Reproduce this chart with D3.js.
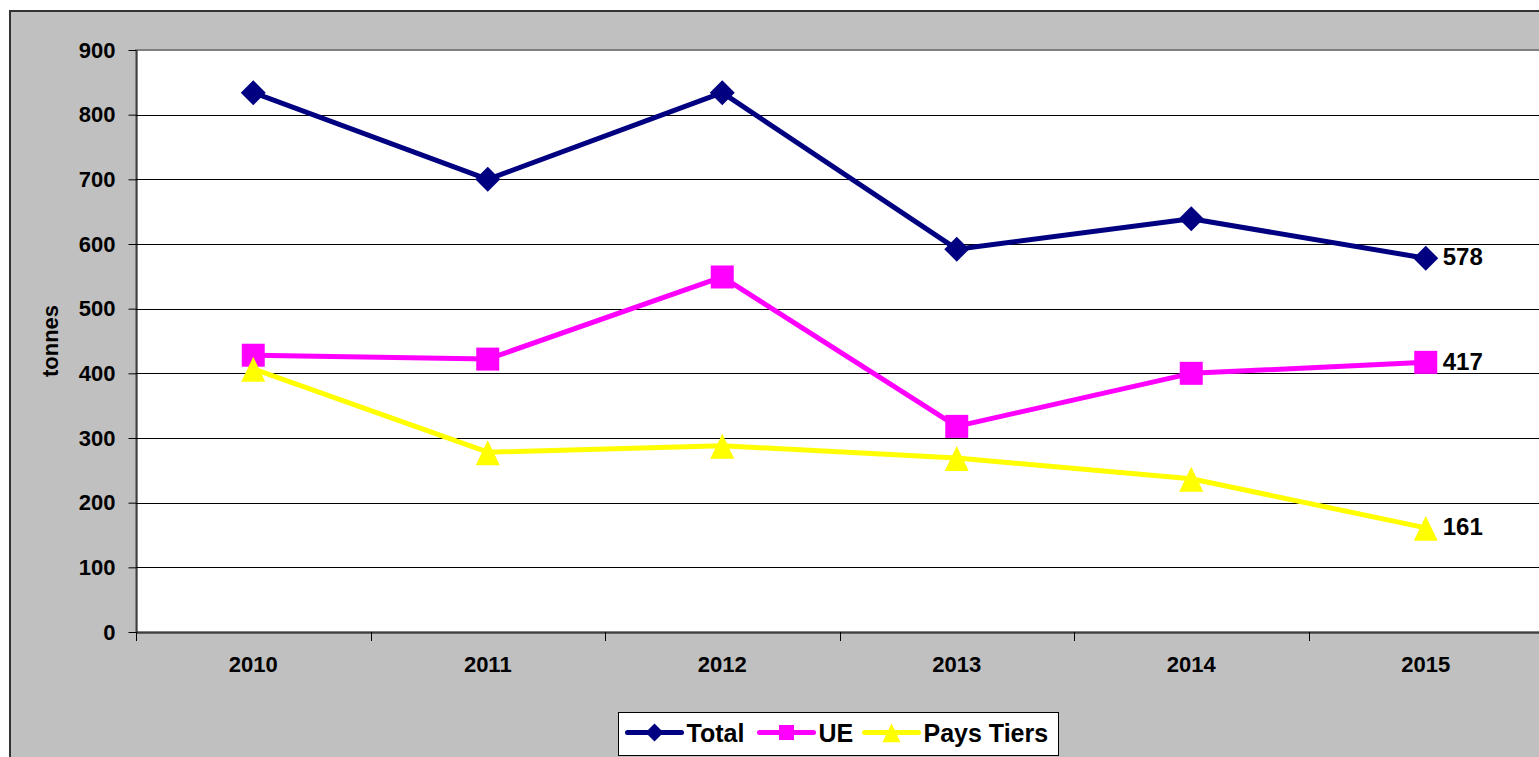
<!DOCTYPE html>
<html>
<head>
<meta charset="utf-8">
<script src="https://cdn.jsdelivr.net/npm/d3@7"></script>
<style>
  html, body { margin: 0; padding: 0; background: #fff; overflow: hidden; }
  svg { display: block; font-family: "Liberation Sans", Arial, sans-serif; }
</style>
</head>
<body>
<div id="chart"></div>
<script>
const years = ['2010', '2011', '2012', '2013', '2014', '2015'];
const totalValues = [834, 700, 834, 592, 639, 578];
const ueValues = [428, 422, 549, 318, 400, 417];
const tiersValues = [407, 278, 288, 269, 237, 161];
const yTicks = [0, 100, 200, 300, 400, 500, 600, 700, 800, 900];

const series = [
    { name: 'Total', values: totalValues, color: '#000080', marker: 'diamond' },
    { name: 'UE', values: ueValues, color: '#ff00ff', marker: 'square' },
    { name: 'Pays Tiers', values: tiersValues, color: '#ffff00', marker: 'triangle' }
];

const width = 1539, height = 757;
const plot = { left: 136, top: 50, right: 1543, bottom: 632 };
const FONT = '"Liberation Sans", Arial, sans-serif';

const svg = d3.select('#chart').append('svg')
    .attr('width', width)
    .attr('height', height);

// Outer chart area
svg.append('rect')
    .attr('x', 10).attr('y', 11)
    .attr('width', width).attr('height', height)
    .attr('fill', '#c0c0c0')
    .attr('stroke', '#333')
    .attr('stroke-width', 2);

const x = d3.scaleBand().domain(years).range([plot.left, plot.right]);
const y = d3.scaleLinear().domain([0, 900]).range([plot.bottom, plot.top]);

// Plot area
svg.append('rect')
    .attr('x', plot.left).attr('y', plot.top)
    .attr('width', plot.right - plot.left).attr('height', plot.bottom - plot.top)
    .attr('fill', '#fff')
    .attr('stroke', '#808080')
    .attr('stroke-width', 2);

// Gridlines
svg.append('g')
    .selectAll('line')
    .data(yTicks.slice(1, -1))
    .join('line')
    .attr('x1', plot.left).attr('x2', plot.right)
    .attr('y1', d => Math.round(y(d)) + 0.5).attr('y2', d => Math.round(y(d)) + 0.5)
    .attr('stroke', '#000')
    .attr('stroke-width', 1);

// Y axis
const yAxis = svg.append('g')
    .attr('transform', `translate(${plot.left + 0.5},0)`)
    .call(d3.axisLeft(y).tickValues(yTicks).tickSize(8).tickSizeOuter(0).tickPadding(13));
yAxis.select('.domain').attr('stroke', '#000');
yAxis.selectAll('.tick line').attr('stroke', '#000');
yAxis.selectAll('.tick text')
    .attr('font-size', '22px')
    .attr('font-weight', 'bold')
    .attr('fill', '#000')
    .attr('font-family', FONT);

// X axis
const xAxis = svg.append('g')
    .attr('transform', `translate(0,${plot.bottom + 0.5})`)
    .call(d3.axisBottom(x).tickSize(0).tickPadding(24));
xAxis.select('.domain').attr('stroke', '#000');
xAxis.selectAll('.tick text')
    .attr('font-size', '22px')
    .attr('font-weight', 'bold')
    .attr('fill', '#000')
    .attr('font-family', FONT);

// Category separators
svg.append('g')
    .selectAll('line')
    .data(years)
    .join('line')
    .attr('x1', d => Math.round(x(d)) + 0.5).attr('x2', d => Math.round(x(d)) + 0.5)
    .attr('y1', plot.bottom).attr('y2', plot.bottom + 9)
    .attr('stroke', '#000');

// Y label
svg.append('text')
    .attr('transform', `translate(50,${(plot.top + plot.bottom) / 2}) rotate(-90)`)
    .attr('text-anchor', 'middle')
    .attr('dy', '0.35em')
    .attr('font-size', '22px')
    .attr('font-weight', 'bold')
    .text('tonnes');

const cx = d => x(d) + x.bandwidth() / 2;

function markerPath(type, s) {
    if (type === 'diamond') return `M0,${-s}L${s},0L0,${s}L${-s},0Z`;
    if (type === 'square') return `M${-s},${-s}H${s}V${s}H${-s}Z`;
    return `M0,${-s}L${s},${s * 1.08}L${-s},${s * 1.08}Z`;
}
const markerSize = { diamond: 12.5, square: 11.5, triangle: 12 };

const line = d3.line().x((d, i) => cx(years[i])).y(d => y(d));

series.forEach(s => {
    const g = svg.append('g');
    g.append('path')
        .attr('d', line(s.values))
        .attr('fill', 'none')
        .attr('stroke', s.color)
        .attr('stroke-width', 5)
        .attr('stroke-linejoin', 'round');
    g.selectAll('path.mk')
        .data(s.values)
        .join('path')
        .attr('class', 'mk')
        .attr('transform', (d, i) => `translate(${cx(years[i])},${y(d)})`)
        .attr('d', markerPath(s.marker, markerSize[s.marker]))
        .attr('fill', s.color);
    const last = s.values.length - 1;
    g.append('text')
        .attr('x', cx(years[last]) + 17)
        .attr('y', y(s.values[last]))
        .attr('dy', '0.3em')
        .attr('font-size', '24px')
        .attr('font-weight', 'bold')
        .text(s.values[last]);
});

// Legend
const legend = svg.append('g').attr('transform', 'translate(618.5,712.5)');
legend.append('rect')
    .attr('width', 440).attr('height', 43)
    .attr('fill', '#fff')
    .attr('stroke', '#000');
const legendItems = [
    { s: series[0], x: 7 },
    { s: series[1], x: 139 },
    { s: series[2], x: 244 }
];
legendItems.forEach(it => {
    const g = legend.append('g').attr('transform', `translate(${it.x},20)`);
    g.append('line')
        .attr('x1', 2).attr('x2', 56)
        .attr('stroke', it.s.color)
        .attr('stroke-width', 5)
        .attr('stroke-linecap', 'round');
    g.append('path')
        .attr('transform', 'translate(29,0)')
        .attr('d', markerPath(it.s.marker, it.s.marker === 'square' ? 7.5 : 9))
        .attr('fill', it.s.color);
    g.append('text')
        .attr('x', 61)
        .attr('dy', '0.36em')
        .attr('font-size', '25px')
        .attr('font-weight', 'bold')
        .text(it.s.name);
});
</script>
</body>
</html>
